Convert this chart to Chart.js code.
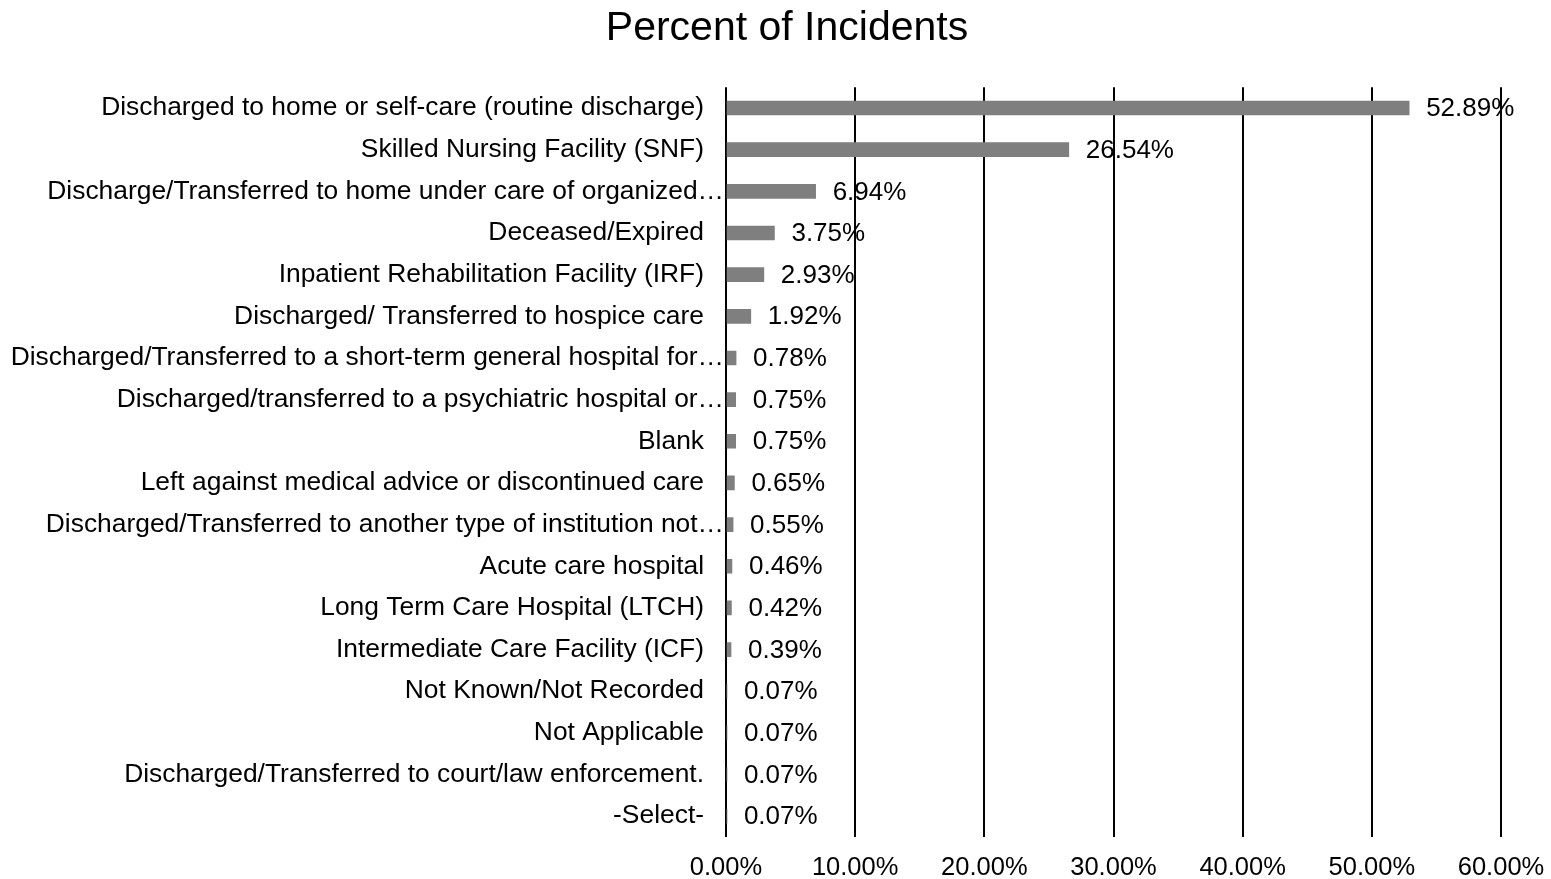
<!DOCTYPE html>
<html>
<head>
<meta charset="utf-8">
<script src="https://cdn.jsdelivr.net/npm/chart.js@4/dist/chart.umd.min.js"></script>
<style>
  html, body { margin: 0; padding: 0; background: #fff; }
  #wrap { width: 1551px; height: 879px; }
</style>
</head>
<body>
<div id="wrap"><canvas id="chart" width="1551" height="879"></canvas></div>
<script>
const categories = [
  'Discharged to home or self-care (routine discharge)',
  'Skilled Nursing Facility (SNF)',
  'Discharge/Transferred to home under care of organized\u2026',
  'Deceased/Expired',
  'Inpatient Rehabilitation Facility (IRF)',
  'Discharged/ Transferred to hospice care',
  'Discharged/Transferred to a short-term general hospital for\u2026',
  'Discharged/transferred to a psychiatric hospital or\u2026',
  'Blank',
  'Left against medical advice or discontinued care',
  'Discharged/Transferred to another type of institution not\u2026',
  'Acute care hospital',
  'Long Term Care Hospital (LTCH)',
  'Intermediate Care Facility (ICF)',
  'Not Known/Not Recorded',
  'Not Applicable',
  'Discharged/Transferred to court/law enforcement.',
  '-Select-'
];
const percents = [52.89, 26.54, 6.94, 3.75, 2.93, 1.92, 0.78, 0.75, 0.75, 0.65, 0.55, 0.46, 0.42, 0.39, 0.07, 0.07, 0.07, 0.07];
const xTicks = [0, 10, 20, 30, 40, 50, 60];

const FONT = '"Liberation Sans", Arial, sans-serif';

// value labels next to bars; title centring; truncated labels run up to the axis like in Excel
const valueLabels = {
  id: 'valueLabels',
  afterLayout(chart) {
    if (chart.titleBlock) {
      chart.titleBlock.left = 73;
      chart.titleBlock.right = 1501;
    }
  },
  beforeDraw(chart) {
    const y = chart.scales.y;
    const items = y.getLabelItems(chart.chartArea);
    items.forEach((item, i) => {
      if (categories[i].endsWith('\u2026') && !item._shifted) {
        item.options.translation[0] += 20;
        item._shifted = true;
      }
    });
  },
  afterDatasetsDraw(chart) {
    const ctx = chart.ctx;
    const meta = chart.getDatasetMeta(0);
    ctx.save();
    ctx.font = '26px ' + FONT;
    ctx.fillStyle = '#000';
    ctx.textAlign = 'left';
    ctx.textBaseline = 'middle';
    meta.data.forEach((bar, i) => {
      ctx.fillText(percents[i].toFixed(2) + '%', bar.x + 17, bar.y + 1);
    });
    ctx.restore();
  }
};

new Chart(document.getElementById('chart').getContext('2d'), {
  type: 'bar',
  data: {
    labels: categories,
    datasets: [{
      data: percents,
      backgroundColor: '#7f7f7f',
      barThickness: 14
    }]
  },
  options: {
    indexAxis: 'y',
    responsive: false,
    animation: false,
    layout: { padding: { left: 0, right: 50, top: 0, bottom: 0 } },
    plugins: {
      legend: { display: false },
      tooltip: { enabled: false },
      title: {
        display: true,
        text: 'Percent of Incidents',
        color: '#000',
        font: { family: FONT, size: 41, weight: 'normal', lineHeight: 1.2 },
        padding: { top: 4, bottom: 34 }
      }
    },
    scales: {
      x: {
        min: 0,
        max: 60,
        afterBuildTicks(scale) {
          scale.ticks = xTicks.map(v => ({ value: v }));
        },
        afterFit(scale) {
          scale.height = 42;
          scale.paddingLeft = 0;
          scale.paddingRight = 0;
        },
        grid: { color: '#000', lineWidth: 2, drawTicks: false },
        border: { display: false },
        ticks: {
          color: '#000',
          padding: 18,
          maxRotation: 0,
          font: { family: FONT, size: 25.5, lineHeight: 1 },
          callback: v => v.toFixed(2) + '%'
        }
      },
      y: {
        afterFit(scale) {
          scale.width = 726;
          scale.paddingTop = 0;
          scale.paddingBottom = 0;
        },
        grid: { display: false, drawTicks: false },
        border: { display: false },
        ticks: {
          color: '#000',
          padding: 22,
          autoSkip: false,
          font: { family: FONT, size: 26.4 }
        }
      }
    }
  },
  plugins: [valueLabels]
});
</script>
</body>
</html>
